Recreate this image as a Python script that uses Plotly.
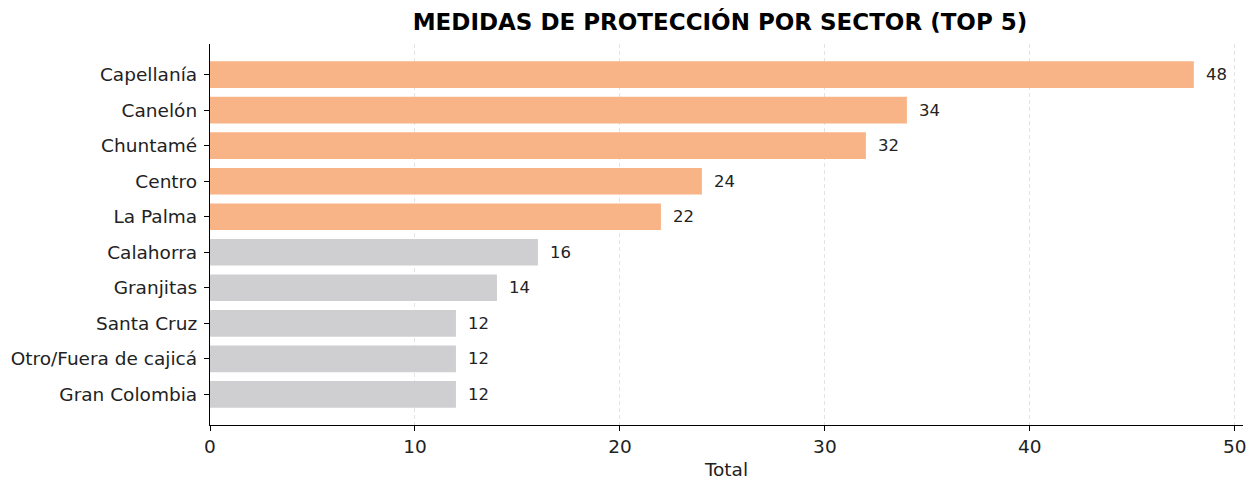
import plotly.graph_objects as go

categories = ["Capellanía", "Canelón", "Chuntamé", "Centro", "La Palma",
              "Calahorra", "Granjitas", "Santa Cruz", "Otro/Fuera de cajicá", "Gran Colombia"]
values = [48, 34, 32, 24, 22, 16, 14, 12, 12, 12]
top_n = 5
x_ticks = [0, 10, 20, 30, 40, 50]

ORANGE = "#F8B386"
GRAY = "#CFCED1"
colors = [ORANGE if i < top_n else GRAY for i in range(len(categories))]

# page offset (body margin of 8px) is compensated in margins
L, R, T, B = 202, 20, 36, 65

fig = go.Figure()
fig.add_trace(go.Bar(
    x=values, y=categories, orientation="h",
    marker=dict(color=colors, line=dict(width=0)),
    width=0.75, showlegend=False, hoverinfo="x+y",
))

for c, v in zip(categories, values):
    fig.add_annotation(x=v, y=c, text=str(v), showarrow=False,
                       xanchor="left", yanchor="middle", xshift=10,
                       font=dict(family="DejaVu Sans", size=16.5, color="#222222"))

fig.update_layout(
    width=1255, height=482,
    margin=dict(l=L, r=R, t=T, b=B, autoexpand=False),
    paper_bgcolor="white", plot_bgcolor="white",
    title=dict(text="<b>MEDIDAS DE PROTECCIÓN POR SECTOR (TOP 5)</b>",
               x=712 / 1255, xanchor="center",
               y=1 - 14 / 482, yanchor="middle",
               font=dict(family="DejaVu Sans", size=23, color="black")),
    font=dict(family="DejaVu Sans", size=18.5, color="#222222"),
)
fig.update_xaxes(
    range=[0, 50.4], tickvals=x_ticks, ticktext=[str(t) for t in x_ticks],
    showline=True, linecolor="black", linewidth=1.3,
    ticks="outside", ticklen=5, tickcolor="black",
    showgrid=True, gridcolor="#E3E3E3", griddash="4px,3px", gridwidth=1,
    zeroline=False, automargin=False,
    title=dict(text="Total", font=dict(size=18.5), standoff=6),
    tickfont=dict(size=18.5),
)
fig.update_yaxes(
    categoryorder="array", categoryarray=categories[::-1],
    range=[-0.8625, 9.8625],
    showline=True, linecolor="black", linewidth=1.3,
    ticks="outside", ticklen=5, tickcolor="black",
    showgrid=False, zeroline=False, automargin=False,
    ticklabelstandoff=3,
    tickfont=dict(size=18.5),
)

fig.write_html("out.html")
